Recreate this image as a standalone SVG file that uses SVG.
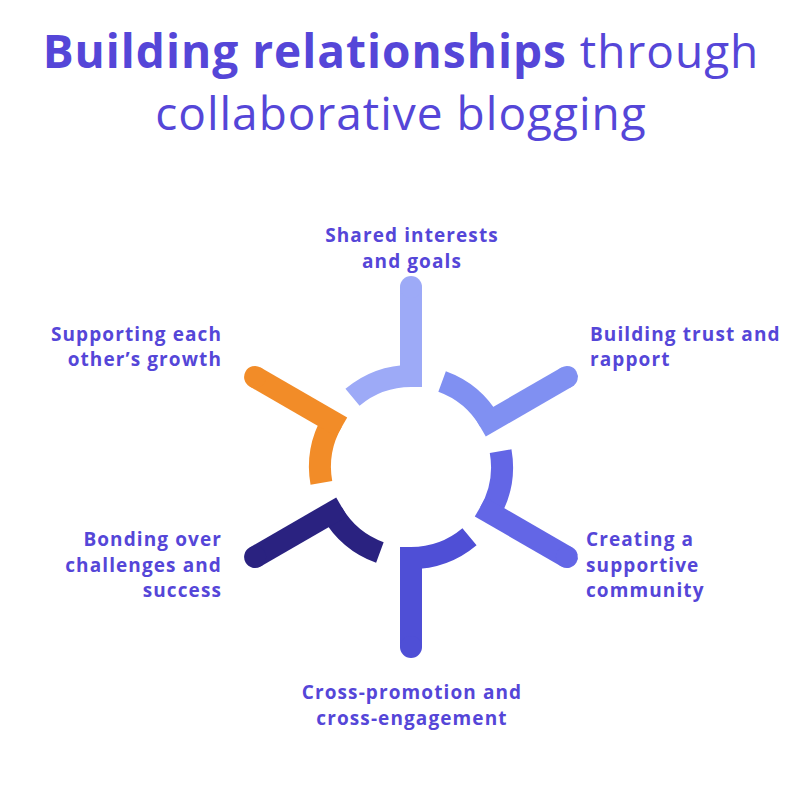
<svg xmlns="http://www.w3.org/2000/svg" width="802" height="802" viewBox="0 0 802 802">
<style>
.t{font-family:"Open Sans","Liberation Sans",sans-serif;font-size:46px;fill:#5546D8}
.l{font-family:"Open Sans","Liberation Sans",sans-serif;font-size:19px;letter-spacing:1.1px;font-weight:700;fill:#5546D8}
.a{fill:none;stroke-width:22}
</style>
<rect width="802" height="802" fill="#fff"/>
<text class="t" x="401" y="68" text-anchor="middle" letter-spacing="1"><tspan font-weight="700">Building relationships</tspan> through</text>
<text class="t" x="401" y="130" text-anchor="middle" letter-spacing="1">collaborative blogging</text>
<g id="connectors" transform="translate(411,467)">
<g id="s1" stroke="#9DAAF7" fill="#9DAAF7"><path class="a" d="M-58.5,-69.7 A91,91 0 0 1 0,-91"/><line x1="0" y1="-80" x2="0" y2="-180" stroke-width="22"/><circle cx="0" cy="-180" r="11" stroke="none"/></g>
<g id="s2" stroke="#8090F2" fill="#8090F2" transform="rotate(60)"><path class="a" d="M-58.5,-69.7 A91,91 0 0 1 0,-91"/><line x1="0" y1="-80" x2="0" y2="-180" stroke-width="22"/><circle cx="0" cy="-180" r="11" stroke="none"/></g>
<g id="s3" stroke="#6366E6" fill="#6366E6" transform="rotate(120)"><path class="a" d="M-58.5,-69.7 A91,91 0 0 1 0,-91"/><line x1="0" y1="-80" x2="0" y2="-180" stroke-width="22"/><circle cx="0" cy="-180" r="11" stroke="none"/></g>
<g id="s4" stroke="#4F4FD6" fill="#4F4FD6" transform="rotate(180)"><path class="a" d="M-58.5,-69.7 A91,91 0 0 1 0,-91"/><line x1="0" y1="-80" x2="0" y2="-180" stroke-width="22"/><circle cx="0" cy="-180" r="11" stroke="none"/></g>
<g id="s5" stroke="#2A2280" fill="#2A2280" transform="rotate(240)"><path class="a" d="M-58.5,-69.7 A91,91 0 0 1 0,-91"/><line x1="0" y1="-80" x2="0" y2="-180" stroke-width="22"/><circle cx="0" cy="-180" r="11" stroke="none"/></g>
<g id="s6" stroke="#F28C28" fill="#F28C28" transform="rotate(300)"><path class="a" d="M-58.5,-69.7 A91,91 0 0 1 0,-91"/><line x1="0" y1="-80" x2="0" y2="-180" stroke-width="22"/><circle cx="0" cy="-180" r="11" stroke="none"/></g>
</g>
<g id="n1"><text class="l" x="412" y="242" text-anchor="middle">Shared interests</text><text class="l" x="412" y="268" text-anchor="middle">and goals</text></g>
<g id="n2"><text class="l" x="590" y="341">Building trust and</text><text class="l" x="590" y="366">rapport</text></g>
<g id="n3"><text class="l" x="586" y="546">Creating a</text><text class="l" x="586" y="572">supportive</text><text class="l" x="586" y="597">community</text></g>
<g id="n4"><text class="l" x="412" y="699" text-anchor="middle">Cross-promotion and</text><text class="l" x="412" y="725" text-anchor="middle">cross-engagement</text></g>
<g id="n5"><text class="l" x="222" y="546" text-anchor="end">Bonding over</text><text class="l" x="222" y="572" text-anchor="end">challenges and</text><text class="l" x="222" y="597" text-anchor="end">success</text></g>
<g id="n6"><text class="l" x="222" y="341" text-anchor="end">Supporting each</text><text class="l" x="222" y="366" text-anchor="end">other’s growth</text></g>
</svg>
